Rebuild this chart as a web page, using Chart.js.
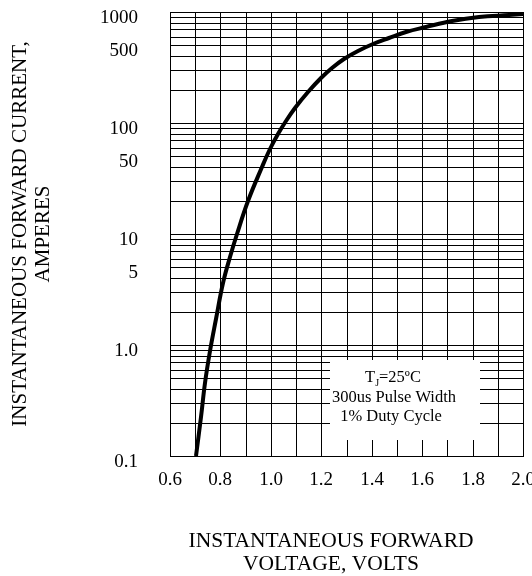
<!DOCTYPE html>
<html>
<head>
<meta charset="utf-8">
<title>Forward characteristics</title>
<script src="https://cdn.jsdelivr.net/npm/chart.js@4.4.1/dist/chart.umd.min.js"></script>
<style>
  html, body { margin: 0; padding: 0; background: #fff; }
  #wrap { width: 532px; height: 576px; }
</style>
</head>
<body>
<div id="wrap"><canvas id="myChart" width="532" height="576"></canvas></div>
<script>
'use strict';

// values
const voltage = [0.704, 0.7225, 0.738, 0.758, 0.781, 0.811, 0.837, 0.864, 0.91, 0.963, 0.995, 1.028, 1.061,
  1.094, 1.146, 1.197, 1.244, 1.292, 1.347, 1.404, 1.47, 1.536, 1.615, 1.72, 1.825, 1.944, 2.00];
const current = [0.1, 0.226, 0.45, 0.88, 1.73, 3.6, 6.2, 10.1, 20, 40, 58, 80, 105,
  136, 190, 254, 316, 378, 446, 510, 589, 661, 740, 831, 902, 944, 955];

// tick labels
const xTickValues = [0.6, 0.8, 1.0, 1.2, 1.4, 1.6, 1.8, 2.0];
const xTickText = ['0.6', '0.8', '1.0', '1.2', '1.4', '1.6', '1.8', '2.0'];
const yTickValues = [0.1, 1, 5, 10, 50, 100, 500, 1000];
const yTickText = ['0.1', '1.0', '5', '10', '50', '100', '500', '1000'];

const yTitle = ['INSTANTANEOUS FORWARD CURRENT,', 'AMPERES'];
const xTitle = ['INSTANTANEOUS FORWARD', 'VOLTAGE, VOLTS'];
const noteLines = ['=25ºC', '300us Pulse Width', '1% Duty Cycle'];

const serif = '"Liberation Serif", "Times New Roman", serif';

const points = [];
for (let i = 0; i < voltage.length; i++) {
  points.push({x: voltage[i], y: current[i]});
}

// log grid: 1..9 in every decade
function logGrid() {
  const vals = [];
  for (let k = -1; k <= 2; k++) {
    for (let n = 1; n <= 9; n++) {
      vals.push(Number((n * Math.pow(10, k)).toPrecision(3)));
    }
  }
  vals.push(1000);
  return vals.map(v => ({value: v}));
}

function findLabel(value, values, texts) {
  for (let i = 0; i < values.length; i++) {
    if (Math.abs(values[i] - value) < 1e-6) {
      return texts[i];
    }
  }
  return '';
}

// white note box on top of the grid
const noteBox = {
  id: 'noteBox',
  beforeDatasetsDraw(chart) {
    const ctx = chart.ctx;
    ctx.save();
    ctx.fillStyle = '#fff';
    ctx.fillRect(330, 360, 150, 80);
    ctx.fillStyle = '#000';
    ctx.textBaseline = 'middle';
    ctx.textAlign = 'left';
    const cx = 393;

    // first line has T with subscript J
    ctx.font = '16.5px ' + serif;
    const wT = ctx.measureText('T').width;
    const wRest = ctx.measureText(noteLines[0]).width;
    ctx.font = '10px ' + serif;
    const wJ = ctx.measureText('J').width;
    let x = cx - (wT + wJ + wRest) / 2;
    ctx.font = '16.5px ' + serif;
    ctx.fillText('T', x, 378);
    ctx.font = '10px ' + serif;
    ctx.fillText('J', x + wT, 383);
    ctx.font = '16.5px ' + serif;
    ctx.fillText(noteLines[0], x + wT + wJ, 378);

    ctx.textAlign = 'center';
    ctx.fillText(noteLines[1], cx + 1, 398);
    ctx.fillText(noteLines[2], cx - 2, 417);
    ctx.restore();
  }
};

// x axis title, sits a bit left of the plot centre like the original
const xTitlePlugin = {
  id: 'xTitlePlugin',
  afterDraw(chart) {
    const ctx = chart.ctx;
    ctx.save();
    ctx.font = '21.5px ' + serif;
    ctx.fillStyle = '#000';
    ctx.textAlign = 'center';
    ctx.textBaseline = 'middle';
    ctx.fillText(xTitle[0], 331, 541);
    ctx.fillText(xTitle[1], 331, 564);
    ctx.restore();
  }
};

const ctx = document.getElementById('myChart').getContext('2d');
const chart = new Chart(ctx, {
  type: 'line',
  data: {
    datasets: [{
      data: points,
      borderColor: '#000',
      borderWidth: 4,
      pointRadius: 0,
      fill: false,
      tension: 0.4
    }]
  },
  options: {
    responsive: false,
    animation: false,
    layout: {padding: {top: 12, right: 9, left: 0, bottom: 0}},
    plugins: {
      legend: {display: false},
      tooltip: {enabled: false}
    },
    scales: {
      x: {
        type: 'linear',
        min: 0.6,
        max: 2.0,
        alignToPixels: true,
        afterFit(scale) {
          scale.height = 120;
          scale.paddingLeft = 0;
          scale.paddingRight = 0;
        },
        grid: {color: '#000', lineWidth: 1, drawTicks: false},
        border: {color: '#000', width: 1},
        ticks: {
          stepSize: 0.1,
          autoSkip: false,
          maxRotation: 0,
          padding: 13,
          color: '#000',
          font: {family: serif, size: 19},
          callback: value => findLabel(value, xTickValues, xTickText)
        }
      },
      y: {
        type: 'logarithmic',
        min: 0.1,
        max: 1000,
        alignToPixels: true,
        afterBuildTicks(scale) {
          scale.ticks = logGrid();
        },
        afterFit(scale) {
          scale.width = 170;
          scale.paddingTop = 0;
          scale.paddingBottom = 0;
        },
        grid: {color: '#000', lineWidth: 1, drawTicks: false},
        border: {color: '#000', width: 1},
        ticks: {
          autoSkip: false,
          padding: 32,
          labelOffset: 6,
          color: '#000',
          font: {family: serif, size: 19},
          callback: value => findLabel(value, yTickValues, yTickText)
        },
        title: {
          display: true,
          text: yTitle,
          color: '#000',
          font: {family: serif, size: 21, lineHeight: 1.1},
          padding: {top: 8.5, bottom: 0}
        }
      }
    }
  },
  plugins: [noteBox, xTitlePlugin]
});
</script>
</body>
</html>
